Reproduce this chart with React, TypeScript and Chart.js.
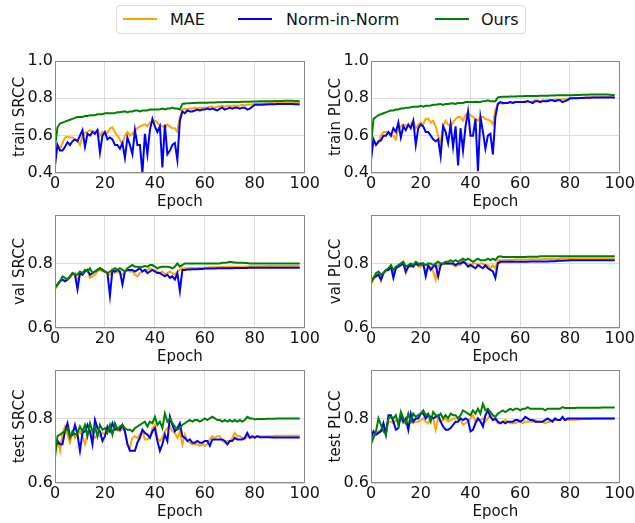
import React, { useEffect, useRef } from 'react';
import { Chart, registerables } from 'chart.js';

Chart.register(...registerables);

// ---------------- data ----------------
const EPOCHS = Array.from({ length: 99 }, (_, i) => i);
const X_TICKS = [0, 20, 40, 60, 80, 100];
const SERIES_NAMES = ['MAE', 'Norm-in-Norm', 'Ours'];
const SERIES_COLORS = ['#FFA500', '#0000FF', '#008000'];

const trainSrccMAE = [
  0.50, 0.55, 0.53, 0.56, 0.59, 0.595, 0.59, 0.59, 0.58, 0.575,
  0.55, 0.60, 0.615, 0.62, 0.63, 0.625, 0.62, 0.63, 0.60, 0.62,
  0.61, 0.615, 0.64, 0.645, 0.62, 0.60, 0.58, 0.55, 0.60, 0.62,
  0.60, 0.61, 0.625, 0.64, 0.65, 0.655, 0.66, 0.65, 0.67, 0.675,
  0.68, 0.67, 0.655, 0.65, 0.645, 0.66, 0.65, 0.64, 0.64, 0.62,
  0.70, 0.74, 0.745, 0.74, 0.745, 0.745, 0.75, 0.745, 0.75, 0.75,
  0.75, 0.752, 0.755, 0.755, 0.75, 0.755, 0.758, 0.76, 0.755, 0.76,
  0.76, 0.76, 0.762, 0.76, 0.762, 0.765, 0.762, 0.765, 0.765, 0.768,
  0.77, 0.77, 0.772, 0.772, 0.772, 0.773, 0.773, 0.774, 0.774, 0.775,
  0.775, 0.775, 0.776, 0.776, 0.776, 0.777, 0.777, 0.777, 0.776,
];
const trainSrccNiN = [
  0.44, 0.55, 0.52, 0.52, 0.54, 0.565, 0.55, 0.57, 0.58, 0.57,
  0.60, 0.63, 0.54, 0.61, 0.60, 0.62, 0.61, 0.63, 0.51, 0.60,
  0.62, 0.58, 0.59, 0.58, 0.55, 0.55, 0.53, 0.56, 0.48, 0.59,
  0.55, 0.50, 0.63, 0.55, 0.55, 0.40, 0.61, 0.50, 0.63, 0.69,
  0.65, 0.62, 0.65, 0.43, 0.66, 0.50, 0.52, 0.55, 0.56, 0.47,
  0.68, 0.73, 0.72, 0.735, 0.73, 0.73, 0.735, 0.74, 0.735, 0.74,
  0.74, 0.745, 0.74, 0.745, 0.74, 0.735, 0.745, 0.75, 0.74, 0.745,
  0.75, 0.745, 0.75, 0.75, 0.745, 0.75, 0.75, 0.74, 0.745, 0.755,
  0.765, 0.765, 0.765, 0.766, 0.767, 0.767, 0.768, 0.768, 0.768, 0.769,
  0.77, 0.77, 0.77, 0.77, 0.77, 0.769, 0.768, 0.768, 0.767,
];
const trainSrccOurs = [
  0.54, 0.645, 0.665, 0.67, 0.675, 0.68, 0.685, 0.69, 0.695, 0.70,
  0.70, 0.70, 0.705, 0.705, 0.71, 0.71, 0.71, 0.715, 0.715, 0.715,
  0.72, 0.72, 0.72, 0.72, 0.722, 0.725, 0.725, 0.728, 0.73, 0.725,
  0.73, 0.73, 0.735, 0.735, 0.73, 0.735, 0.735, 0.735, 0.74, 0.74,
  0.74, 0.74, 0.742, 0.745, 0.74, 0.745, 0.745, 0.75, 0.745, 0.745,
  0.74, 0.77, 0.772, 0.773, 0.774, 0.775, 0.775, 0.776, 0.776, 0.777,
  0.777, 0.777, 0.778, 0.778, 0.778, 0.779, 0.779, 0.779, 0.78, 0.78,
  0.78, 0.78, 0.781, 0.781, 0.781, 0.782, 0.782, 0.782, 0.782, 0.783,
  0.783, 0.783, 0.784, 0.784, 0.784, 0.785, 0.785, 0.785, 0.786, 0.786,
  0.786, 0.786, 0.787, 0.787, 0.787, 0.787, 0.786, 0.786, 0.785,
];

const trainPlccMAE = [
  0.50, 0.58, 0.55, 0.56, 0.60, 0.62, 0.62, 0.62, 0.60, 0.60,
  0.58, 0.64, 0.65, 0.66, 0.655, 0.65, 0.66, 0.68, 0.64, 0.66,
  0.67, 0.66, 0.69, 0.69, 0.67, 0.68, 0.65, 0.60, 0.56, 0.65,
  0.68, 0.66, 0.65, 0.67, 0.69, 0.70, 0.70, 0.68, 0.71, 0.72,
  0.71, 0.70, 0.69, 0.68, 0.70, 0.70, 0.69, 0.685, 0.68, 0.66,
  0.74, 0.77, 0.775, 0.77, 0.775, 0.775, 0.78, 0.775, 0.78, 0.78,
  0.78, 0.782, 0.785, 0.785, 0.78, 0.785, 0.788, 0.79, 0.785, 0.79,
  0.79, 0.79, 0.792, 0.79, 0.792, 0.795, 0.792, 0.795, 0.795, 0.798,
  0.80, 0.80, 0.802, 0.802, 0.802, 0.803, 0.803, 0.804, 0.804, 0.805,
  0.805, 0.805, 0.806, 0.806, 0.806, 0.807, 0.807, 0.807, 0.806,
];
const trainPlccNiN = [
  0.47, 0.58, 0.55, 0.57, 0.575, 0.60, 0.60, 0.62, 0.60, 0.64,
  0.62, 0.67, 0.59, 0.65, 0.63, 0.66, 0.64, 0.68, 0.55, 0.64,
  0.66, 0.65, 0.62, 0.62, 0.60, 0.58, 0.57, 0.58, 0.49, 0.65,
  0.62, 0.56, 0.66, 0.54, 0.65, 0.44, 0.64, 0.52, 0.65, 0.73,
  0.60, 0.60, 0.69, 0.41, 0.70, 0.62, 0.53, 0.60, 0.61, 0.50,
  0.70, 0.77, 0.78, 0.775, 0.775, 0.775, 0.78, 0.775, 0.78, 0.78,
  0.78, 0.78, 0.78, 0.785, 0.78, 0.775, 0.785, 0.785, 0.78, 0.785,
  0.785, 0.785, 0.79, 0.79, 0.785, 0.79, 0.79, 0.78, 0.785, 0.79,
  0.80, 0.80, 0.80, 0.801, 0.802, 0.802, 0.803, 0.803, 0.803, 0.804,
  0.805, 0.805, 0.805, 0.805, 0.805, 0.804, 0.804, 0.804, 0.803,
];
const trainPlccOurs = [
  0.55, 0.69, 0.70, 0.71, 0.715, 0.72, 0.725, 0.73, 0.735, 0.735,
  0.74, 0.74, 0.745, 0.745, 0.75, 0.75, 0.752, 0.755, 0.755, 0.755,
  0.76, 0.755, 0.76, 0.76, 0.762, 0.765, 0.765, 0.768, 0.77, 0.765,
  0.77, 0.77, 0.772, 0.773, 0.77, 0.775, 0.775, 0.775, 0.78, 0.78,
  0.78, 0.78, 0.782, 0.78, 0.78, 0.785, 0.785, 0.79, 0.785, 0.785,
  0.785, 0.805, 0.807, 0.808, 0.808, 0.809, 0.81, 0.81, 0.81, 0.811,
  0.811, 0.811, 0.812, 0.812, 0.812, 0.813, 0.813, 0.813, 0.814, 0.814,
  0.814, 0.814, 0.815, 0.815, 0.815, 0.816, 0.816, 0.816, 0.816, 0.817,
  0.817, 0.817, 0.818, 0.818, 0.818, 0.819, 0.819, 0.819, 0.82, 0.82,
  0.82, 0.82, 0.82, 0.82, 0.82, 0.82, 0.819, 0.818, 0.817,
];

const valSrccMAE = [
  0.72, 0.73, 0.745, 0.75, 0.745, 0.75, 0.755, 0.765, 0.77, 0.745,
  0.77, 0.765, 0.775, 0.78, 0.755, 0.76, 0.765, 0.775, 0.78, 0.775,
  0.775, 0.77, 0.765, 0.775, 0.77, 0.775, 0.77, 0.765, 0.775, 0.78,
  0.775, 0.775, 0.765, 0.76, 0.77, 0.775, 0.78, 0.78, 0.785, 0.78,
  0.78, 0.775, 0.77, 0.775, 0.765, 0.77, 0.775, 0.77, 0.765, 0.775,
  0.78, 0.785, 0.785, 0.785, 0.786, 0.786, 0.786, 0.787, 0.787, 0.787,
  0.787, 0.787, 0.788, 0.788, 0.788, 0.788, 0.789, 0.789, 0.789, 0.79,
  0.79, 0.79, 0.79, 0.79, 0.79, 0.79, 0.79, 0.791, 0.791, 0.791,
  0.791, 0.791, 0.791, 0.791, 0.791, 0.792, 0.792, 0.792, 0.792, 0.792,
  0.792, 0.792, 0.792, 0.792, 0.792, 0.792, 0.792, 0.792, 0.792,
];
const valSrccNiN = [
  0.725, 0.735, 0.745, 0.75, 0.745, 0.75, 0.76, 0.77, 0.765, 0.72,
  0.77, 0.765, 0.775, 0.78, 0.765, 0.77, 0.775, 0.78, 0.785, 0.78,
  0.775, 0.77, 0.70, 0.78, 0.775, 0.78, 0.775, 0.735, 0.775, 0.78,
  0.78, 0.78, 0.775, 0.78, 0.785, 0.775, 0.78, 0.77, 0.775, 0.78,
  0.775, 0.77, 0.77, 0.765, 0.76, 0.765, 0.755, 0.76, 0.75, 0.77,
  0.715, 0.78, 0.78, 0.781, 0.781, 0.782, 0.782, 0.782, 0.783, 0.783,
  0.784, 0.784, 0.784, 0.784, 0.784, 0.785, 0.785, 0.785, 0.785, 0.785,
  0.785, 0.785, 0.786, 0.786, 0.786, 0.786, 0.786, 0.786, 0.787, 0.787,
  0.787, 0.787, 0.787, 0.787, 0.787, 0.787, 0.787, 0.787, 0.787, 0.787,
  0.787, 0.787, 0.787, 0.787, 0.787, 0.787, 0.787, 0.787, 0.787,
];
const valSrccOurs = [
  0.725, 0.735, 0.745, 0.76, 0.755, 0.75, 0.76, 0.77, 0.765, 0.765,
  0.775, 0.77, 0.78, 0.775, 0.785, 0.77, 0.775, 0.78, 0.785, 0.78,
  0.775, 0.77, 0.775, 0.78, 0.785, 0.78, 0.785, 0.78, 0.775, 0.785,
  0.79, 0.795, 0.79, 0.79, 0.788, 0.79, 0.792, 0.79, 0.795, 0.795,
  0.79, 0.785, 0.788, 0.79, 0.79, 0.79, 0.788, 0.785, 0.79, 0.80,
  0.79, 0.795, 0.80, 0.80, 0.80, 0.80, 0.80, 0.80, 0.80, 0.80,
  0.80, 0.80, 0.80, 0.80, 0.80, 0.80, 0.80, 0.802, 0.802, 0.803,
  0.805, 0.804, 0.803, 0.802, 0.802, 0.802, 0.801, 0.801, 0.80, 0.80,
  0.80, 0.80, 0.80, 0.80, 0.80, 0.80, 0.80, 0.80, 0.80, 0.80,
  0.80, 0.80, 0.80, 0.80, 0.80, 0.80, 0.80, 0.80, 0.80,
];

const valPlccMAE = [
  0.735, 0.75, 0.765, 0.77, 0.745, 0.77, 0.775, 0.78, 0.79, 0.765,
  0.785, 0.79, 0.795, 0.80, 0.77, 0.79, 0.79, 0.795, 0.80, 0.79,
  0.79, 0.795, 0.775, 0.785, 0.79, 0.775, 0.75, 0.795, 0.795, 0.80,
  0.80, 0.80, 0.80, 0.795, 0.79, 0.795, 0.795, 0.81, 0.80, 0.80,
  0.795, 0.80, 0.80, 0.795, 0.80, 0.80, 0.79, 0.795, 0.785, 0.795,
  0.785, 0.81, 0.81, 0.81, 0.81, 0.811, 0.811, 0.811, 0.812, 0.812,
  0.812, 0.812, 0.812, 0.812, 0.813, 0.813, 0.813, 0.813, 0.813, 0.814,
  0.814, 0.814, 0.814, 0.814, 0.814, 0.814, 0.815, 0.815, 0.815, 0.815,
  0.815, 0.815, 0.815, 0.815, 0.815, 0.815, 0.815, 0.815, 0.815, 0.815,
  0.815, 0.815, 0.815, 0.815, 0.815, 0.815, 0.815, 0.815, 0.815,
];
const valPlccNiN = [
  0.745, 0.755, 0.76, 0.765, 0.75, 0.77, 0.78, 0.78, 0.79, 0.755,
  0.785, 0.79, 0.795, 0.80, 0.775, 0.79, 0.795, 0.79, 0.80, 0.795,
  0.80, 0.80, 0.76, 0.795, 0.78, 0.79, 0.795, 0.76, 0.795, 0.80,
  0.80, 0.80, 0.80, 0.80, 0.795, 0.80, 0.80, 0.805, 0.80, 0.79,
  0.795, 0.79, 0.785, 0.795, 0.79, 0.785, 0.795, 0.785, 0.78, 0.775,
  0.755, 0.80, 0.805, 0.805, 0.805, 0.805, 0.805, 0.805, 0.805, 0.805,
  0.805, 0.805, 0.805, 0.805, 0.806, 0.806, 0.806, 0.806, 0.806, 0.806,
  0.806, 0.806, 0.807, 0.807, 0.807, 0.808, 0.808, 0.808, 0.809, 0.809,
  0.81, 0.81, 0.81, 0.81, 0.81, 0.81, 0.81, 0.81, 0.81, 0.81,
  0.81, 0.81, 0.81, 0.81, 0.81, 0.81, 0.81, 0.81, 0.81,
];
const valPlccOurs = [
  0.74, 0.755, 0.77, 0.775, 0.765, 0.77, 0.78, 0.785, 0.795, 0.78,
  0.79, 0.795, 0.80, 0.805, 0.79, 0.795, 0.80, 0.795, 0.805, 0.80,
  0.795, 0.80, 0.795, 0.80, 0.80, 0.795, 0.80, 0.805, 0.80, 0.80,
  0.805, 0.805, 0.81, 0.805, 0.81, 0.805, 0.81, 0.815, 0.81, 0.815,
  0.81, 0.805, 0.81, 0.815, 0.81, 0.81, 0.81, 0.815, 0.81, 0.815,
  0.81, 0.82, 0.822, 0.82, 0.82, 0.82, 0.82, 0.82, 0.82, 0.82,
  0.82, 0.82, 0.82, 0.821, 0.821, 0.821, 0.821, 0.821, 0.822, 0.822,
  0.822, 0.822, 0.822, 0.822, 0.822, 0.822, 0.822, 0.822, 0.822, 0.822,
  0.822, 0.822, 0.822, 0.822, 0.822, 0.822, 0.822, 0.822, 0.822, 0.822,
  0.822, 0.822, 0.822, 0.822, 0.822, 0.822, 0.822, 0.822, 0.822,
];

const testSrccMAE = [
  0.72, 0.73, 0.70, 0.755, 0.775, 0.75, 0.725, 0.755, 0.74, 0.75,
  0.76, 0.745, 0.72, 0.75, 0.76, 0.745, 0.74, 0.75, 0.745, 0.755,
  0.75, 0.765, 0.76, 0.76, 0.77, 0.765, 0.76, 0.77, 0.76, 0.72,
  0.71, 0.74, 0.745, 0.74, 0.75, 0.76, 0.735, 0.735, 0.74, 0.77,
  0.78, 0.74, 0.73, 0.74, 0.76, 0.77, 0.775, 0.76, 0.755, 0.74,
  0.76, 0.72, 0.75, 0.73, 0.725, 0.72, 0.72, 0.72, 0.715, 0.72,
  0.715, 0.72, 0.735, 0.745, 0.74, 0.745, 0.745, 0.73, 0.725, 0.73,
  0.73, 0.74, 0.755, 0.745, 0.745, 0.74, 0.735, 0.745, 0.74, 0.74,
  0.745, 0.744, 0.744, 0.745, 0.745, 0.745, 0.745, 0.745, 0.746, 0.746,
  0.746, 0.746, 0.746, 0.746, 0.746, 0.746, 0.746, 0.746, 0.746,
];
const testSrccNiN = [
  0.70, 0.73, 0.72, 0.72, 0.76, 0.785, 0.745, 0.75, 0.78, 0.75,
  0.70, 0.755, 0.76, 0.78, 0.76, 0.72, 0.795, 0.77, 0.76, 0.73,
  0.745, 0.775, 0.76, 0.785, 0.765, 0.77, 0.765, 0.78, 0.76, 0.72,
  0.70, 0.70, 0.70, 0.725, 0.74, 0.765, 0.755, 0.75, 0.74, 0.76,
  0.77, 0.73, 0.70, 0.72, 0.75, 0.73, 0.805, 0.78, 0.76, 0.77,
  0.785, 0.745, 0.74, 0.73, 0.735, 0.725, 0.725, 0.73, 0.725, 0.725,
  0.73, 0.73, 0.715, 0.735, 0.735, 0.735, 0.735, 0.735, 0.73, 0.72,
  0.73, 0.73, 0.74, 0.735, 0.735, 0.735, 0.74, 0.755, 0.74, 0.745,
  0.74, 0.745, 0.742, 0.742, 0.742, 0.742, 0.742, 0.741, 0.741, 0.741,
  0.741, 0.741, 0.741, 0.741, 0.741, 0.741, 0.741, 0.741, 0.741,
];
const testSrccOurs = [
  0.68, 0.745, 0.75, 0.755, 0.76, 0.77, 0.74, 0.76, 0.75, 0.755,
  0.775, 0.76, 0.78, 0.745, 0.785, 0.76, 0.775, 0.745, 0.78, 0.765,
  0.77, 0.755, 0.78, 0.75, 0.785, 0.765, 0.775, 0.78, 0.77, 0.765,
  0.765, 0.76, 0.77, 0.775, 0.78, 0.785, 0.79, 0.775, 0.79, 0.785,
  0.805, 0.78, 0.79, 0.77, 0.815, 0.79, 0.80, 0.785, 0.775, 0.765,
  0.77, 0.78, 0.785, 0.79, 0.795, 0.79, 0.795, 0.795, 0.79, 0.795,
  0.80, 0.795, 0.80, 0.805, 0.80, 0.795, 0.795, 0.79, 0.795, 0.79,
  0.795, 0.79, 0.795, 0.79, 0.795, 0.79, 0.795, 0.805, 0.80, 0.80,
  0.797, 0.798, 0.798, 0.798, 0.798, 0.799, 0.799, 0.799, 0.799, 0.80,
  0.80, 0.80, 0.80, 0.80, 0.80, 0.80, 0.80, 0.80, 0.80,
];

const testPlccMAE = [
  0.73, 0.745, 0.75, 0.76, 0.765, 0.77, 0.77, 0.79, 0.79, 0.785,
  0.795, 0.79, 0.80, 0.785, 0.79, 0.78, 0.795, 0.785, 0.79, 0.79,
  0.795, 0.80, 0.79, 0.785, 0.80, 0.80, 0.765, 0.80, 0.79, 0.795,
  0.80, 0.79, 0.795, 0.80, 0.80, 0.80, 0.795, 0.78, 0.785, 0.79,
  0.80, 0.81, 0.79, 0.80, 0.795, 0.80, 0.79, 0.80, 0.81, 0.80,
  0.795, 0.785, 0.785, 0.79, 0.795, 0.79, 0.785, 0.785, 0.785, 0.79,
  0.79, 0.785, 0.79, 0.79, 0.79, 0.79, 0.795, 0.79, 0.79, 0.79,
  0.785, 0.79, 0.79, 0.795, 0.795, 0.795, 0.795, 0.80, 0.795, 0.795,
  0.795, 0.796, 0.796, 0.797, 0.797, 0.798, 0.798, 0.798, 0.799, 0.799,
  0.80, 0.80, 0.80, 0.80, 0.80, 0.80, 0.80, 0.80, 0.80,
];
const testPlccNiN = [
  0.74, 0.76, 0.75, 0.755, 0.76, 0.785, 0.75, 0.81, 0.81, 0.79,
  0.765, 0.77, 0.81, 0.79, 0.80, 0.765, 0.815, 0.79, 0.80, 0.80,
  0.815, 0.815, 0.80, 0.81, 0.805, 0.80, 0.805, 0.81, 0.79, 0.775,
  0.765, 0.765, 0.77, 0.78, 0.79, 0.79, 0.80, 0.795, 0.80, 0.795,
  0.76, 0.765, 0.785, 0.80, 0.79, 0.775, 0.81, 0.825, 0.805, 0.795,
  0.80, 0.79, 0.785, 0.79, 0.785, 0.79, 0.79, 0.79, 0.795, 0.795,
  0.79, 0.795, 0.805, 0.80, 0.795, 0.795, 0.79, 0.79, 0.79, 0.79,
  0.795, 0.80, 0.795, 0.79, 0.80, 0.795, 0.795, 0.805, 0.795, 0.80,
  0.80, 0.80, 0.80, 0.80, 0.80, 0.80, 0.80, 0.80, 0.80, 0.80,
  0.80, 0.80, 0.80, 0.80, 0.80, 0.80, 0.80, 0.80, 0.80,
];
const testPlccOurs = [
  0.72, 0.74, 0.76, 0.80, 0.78, 0.76, 0.75, 0.80, 0.805, 0.80,
  0.81, 0.78, 0.82, 0.80, 0.785, 0.815, 0.79, 0.815, 0.805, 0.81,
  0.815, 0.825, 0.81, 0.815, 0.79, 0.82, 0.81, 0.805, 0.815, 0.80,
  0.81, 0.80, 0.815, 0.81, 0.81, 0.80, 0.81, 0.825, 0.82, 0.815,
  0.81, 0.825, 0.815, 0.83, 0.815, 0.845, 0.825, 0.83, 0.82, 0.81,
  0.805, 0.815, 0.82, 0.825, 0.82, 0.825, 0.83, 0.825, 0.83, 0.83,
  0.825, 0.83, 0.83, 0.835, 0.83, 0.83, 0.83, 0.83, 0.83, 0.83,
  0.825, 0.83, 0.83, 0.83, 0.83, 0.83, 0.83, 0.835, 0.832, 0.832,
  0.832, 0.832, 0.832, 0.833, 0.833, 0.833, 0.833, 0.833, 0.833, 0.833,
  0.833, 0.833, 0.833, 0.834, 0.834, 0.834, 0.834, 0.834, 0.834,
];

const Y_TICKS_TRAIN = [0.4, 0.6, 0.8, 1.0];
const Y_TICKS_EVAL = [0.6, 0.8];

// ---------------- layout ----------------
const FONT = "'DejaVu Sans', sans-serif";
const Y_AXIS_W = 55;
const X_AXIS_H = 38;
const PAD_T = 12;
const PAD_R = 16;

const PANELS = [
  { label: 'train SRCC', l: 55, t: 61, r: 305, b: 173, yMin: 0.4, yMax: 1.0, yTicks: Y_TICKS_TRAIN, series: [trainSrccMAE, trainSrccNiN, trainSrccOurs] },
  { label: 'train PLCC', l: 371, t: 61, r: 620, b: 173, yMin: 0.4, yMax: 1.0, yTicks: Y_TICKS_TRAIN, series: [trainPlccMAE, trainPlccNiN, trainPlccOurs] },
  { label: 'val SRCC', l: 55, t: 215, r: 305, b: 328, yMin: 0.6, yMax: 0.95, yTicks: Y_TICKS_EVAL, series: [valSrccMAE, valSrccNiN, valSrccOurs] },
  { label: 'val PLCC', l: 371, t: 215, r: 620, b: 328, yMin: 0.6, yMax: 0.95, yTicks: Y_TICKS_EVAL, series: [valPlccMAE, valPlccNiN, valPlccOurs] },
  { label: 'test SRCC', l: 55, t: 370, r: 305, b: 483, yMin: 0.6, yMax: 0.95, yTicks: Y_TICKS_EVAL, series: [testSrccMAE, testSrccNiN, testSrccOurs] },
  { label: 'test PLCC', l: 371, t: 370, r: 620, b: 483, yMin: 0.6, yMax: 0.95, yTicks: Y_TICKS_EVAL, series: [testPlccMAE, testPlccNiN, testPlccOurs] },
];

const framePlugin = {
  id: 'frame',
  afterDraw(chart: any) {
    const { ctx, chartArea: a } = chart;
    ctx.save();
    ctx.strokeStyle = '#8a8a8a';
    ctx.lineWidth = 1;
    ctx.strokeRect(Math.round(a.left) + 0.5, Math.round(a.top) + 0.5, Math.round(a.right - a.left) - 1, Math.round(a.bottom - a.top) - 1);
    ctx.restore();
  },
};

function Panel({ cfg }: { cfg: any }) {
  const ref = useRef<HTMLCanvasElement | null>(null);
  const w = cfg.r - cfg.l + Y_AXIS_W + PAD_R;
  const h = cfg.b - cfg.t + PAD_T + X_AXIS_H;
  const left = cfg.l - Y_AXIS_W;
  const top = cfg.t - PAD_T;

  useEffect(() => {
    if (!ref.current) return;
    const chart = new Chart(ref.current, {
      type: 'line',
      data: {
        datasets: cfg.series.map((vals: number[], k: number) => ({
          label: SERIES_NAMES[k],
          data: vals.map((v, i) => ({ x: EPOCHS[i], y: v })),
          borderColor: SERIES_COLORS[k],
          backgroundColor: SERIES_COLORS[k],
          borderWidth: 2,
          pointRadius: 0,
          fill: false,
          tension: 0,
          order: 3 - k,
        })),
      },
      options: {
        animation: false,
        responsive: false,
        events: [],
        layout: { padding: { left: 0, top: PAD_T, right: PAD_R, bottom: 0 } },
        plugins: { legend: { display: false }, tooltip: { enabled: false } },
        scales: {
          x: {
            type: 'linear',
            min: 0,
            max: 100,
            afterBuildTicks: (s: any) => { s.ticks = X_TICKS.map((v) => ({ value: v })); },
            afterFit: (s: any) => { s.height = X_AXIS_H; },
            grid: { color: '#dcdcdc', lineWidth: 1, drawTicks: false },
            border: { display: false },
            ticks: { font: { family: FONT, size: 16 }, color: '#111', padding: 1, maxRotation: 0, autoSkip: false, callback: (v: any) => String(v) },
            title: { display: true, text: 'Epoch', font: { family: FONT, size: 15 }, color: '#111', padding: { top: 0, bottom: 0 } },
          },
          y: {
            type: 'linear',
            min: cfg.yMin,
            max: cfg.yMax,
            afterBuildTicks: (s: any) => { s.ticks = cfg.yTicks.map((v: number) => ({ value: v })); },
            afterFit: (s: any) => { s.width = Y_AXIS_W; },
            grid: { color: '#dcdcdc', lineWidth: 1, drawTicks: false },
            border: { display: false },
            ticks: { font: { family: FONT, size: 16 }, color: '#111', padding: 2, autoSkip: false, callback: (v: any) => Number(v).toFixed(1) },
            title: { display: true, text: cfg.label, font: { family: FONT, size: 15 }, color: '#111', padding: { top: 11, bottom: 0 } },
          },
        },
      },
      plugins: [framePlugin],
    } as any);
    return () => chart.destroy();
  }, []);

  return (
    <canvas
      ref={ref}
      width={w}
      height={h}
      style={{ position: 'absolute', left, top, width: w, height: h, display: 'block' }}
    />
  );
}

const LEGEND_ITEMS = [
  { lineL: 123, textL: 170 },
  { lineL: 238, textL: 286 },
  { lineL: 435, textL: 481 },
];

function Legend() {
  return (
    <div>
      <div
        style={{
          position: 'absolute', left: 116, top: 5, width: 410, height: 29,
          border: '1px solid #dddddd', borderRadius: 4, background: '#fff', boxSizing: 'border-box',
        }}
      />
      {SERIES_NAMES.map((name, k) => (
        <React.Fragment key={name}>
          <div style={{ position: 'absolute', left: LEGEND_ITEMS[k].lineL, top: 18, width: 34, height: 2, background: SERIES_COLORS[k] }} />
          <div style={{ position: 'absolute', left: LEGEND_ITEMS[k].textL, top: 10, height: 20, lineHeight: '20px', fontFamily: FONT, fontSize: 16, color: '#111', whiteSpace: 'nowrap' }}>
            {name}
          </div>
        </React.Fragment>
      ))}
    </div>
  );
}

export default function App() {
  return (
    <div style={{ position: 'absolute', left: 0, top: 0, width: 635, height: 523, background: '#fff', overflow: 'hidden' }}>
      <Legend />
      {PANELS.map((p) => (
        <Panel key={p.label} cfg={p} />
      ))}
    </div>
  );
}
